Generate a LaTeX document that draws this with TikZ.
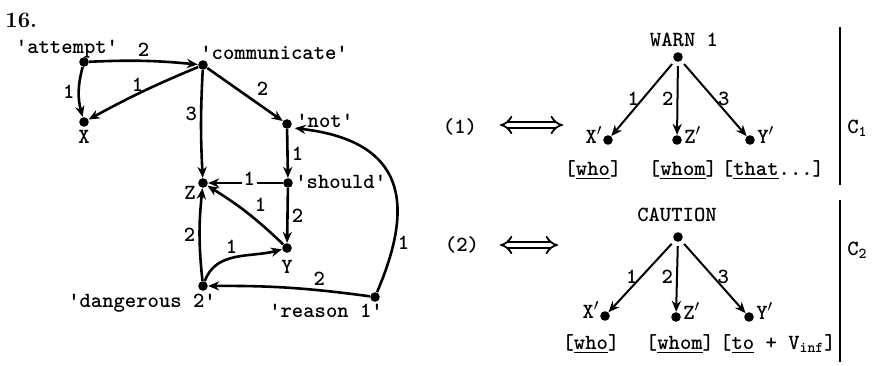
\documentclass[tikz,border=0pt]{standalone}
\usetikzlibrary{arrows.meta}

\begin{document}
\begin{tikzpicture}[x=0.5pt, y=-0.5pt, >={Stealth[length=5.5pt,width=4.6pt]},
    every node/.style={font=\ttfamily\bfseries\fontsize{10.8}{12}\selectfont},
    dot/.style={circle, fill, inner sep=0pt, minimum size=4.8pt},
    rel/.style={->, line width=1.3pt},
    relr/.style={->, line width=1pt, shorten <=2pt},
    num/.style={inner sep=1.5pt},
    txt/.style={anchor=base, inner sep=0pt},
    dbl/.style={{Implies}-{Implies}, double, double distance=2.2pt, line width=0.9pt},
    bar/.style={line width=1.4pt}]
    \useasboundingbox (0,0) rectangle (874,365);

    \node[font=\rmfamily\bfseries\fontsize{11}{13}\selectfont, anchor=base west, inner sep=0pt] (head) at (5,27) {16.};

    % left graph
    \node[dot] (att) at (84,62) {};
    \node[dot] (com) at (203,65) {};
    \node[dot] (X) at (84,122) {};
    \node[dot] (not) at (287,124) {};
    \node[dot] (sho) at (288,183) {};
    \node[dot] (Z) at (203,183) {};
    \node[dot] (Y) at (287,248) {};
    \node[dot] (dan) at (203,286) {};
    \node[dot] (rea) at (375,297) {};

    \node[txt] (attl) at (67,53) {'attempt'};
    \node[txt, anchor=base west] (coml) at (200,59) {'communicate'};
    \node[txt] (Xl) at (84,143) {X};
    \node[txt, anchor=base west] (notl) at (296,127) {'not'};
    \node[txt, anchor=base west] (shol) at (295,188) {'should'};
    \node[txt] (Zl) at (190,199) {Z};
    \node[txt] (Yl) at (287,273) {Y};
    \node[txt] (danl) at (142,307) {'dangerous 2'};
    \node[txt] (real) at (326,317) {'reason 1'};

    \draw[rel] (att) to[bend left=4] node[above, num] {2} (com);
    \draw[rel] (att) to[bend right=15] node[left, num] {1} (X);
    \draw[rel] (com) to[bend right=3] node[above, num, pos=0.55, inner sep=0.5pt] {1} (X);
    \draw[rel] (com) to[bend right=3] node[left, num, pos=0.4] {3} (Z);
    \draw[rel] (com) -- node[above right, num, pos=0.6] {2} (not);
    \draw[rel] (not) -- node[right, num] {1} (sho);
    \draw[rel] (sho) -- node[num, fill=white, inner sep=1pt, yshift=2pt, pos=0.45] {1} (Z);
    \draw[rel] (sho) -- node[right, num] {2} (Y);
    \draw[rel] (Y) to[bend right=6] node[above right, num, pos=0.45] {1} (Z);
    \draw[rel] (dan) to[bend left=6] node[left, num] {2} (Z);
    \draw[rel] (dan) to[out=70, in=195] node[above, num, pos=0.45] {1} (Y);
    \draw[rel] (rea) to[bend right=4] node[above, num, pos=0.3] {2} (dan);
    \draw[rel, shorten >=2pt] (rea) .. controls (410,215) and (415,142) .. node[right, num, pos=0.22] {1} (not.south east);

    % first reading
    \node (r1) at (460,127) {(1)};
    \coordinate (e1a) at (500,125);
    \coordinate (e1b) at (563,125);
    \draw[dbl] (e1a) -- (e1b);

    \node[dot] (w1) at (678,57) {};
    \node[dot] (x1) at (608,140) {};
    \node[dot] (z1) at (677,140) {};
    \node[dot] (y1) at (750,140) {};
    \node[txt] (w1l) at (684,46) {WARN 1};
    \node[txt, anchor=base east] (x1l) at (603,143) {X$'$};
    \node[txt, anchor=base west] (z1l) at (684,143) {Z$'$};
    \node[txt, anchor=base west] (y1l) at (757,143) {Y$'$};
    \node[txt] (x1w) at (593,175) {[\underline{who}]};
    \node[txt] (z1w) at (683,175) {[\underline{whom}]};
    \node[txt] (y1w) at (773,175) {[\underline{that}...]};

    \draw[relr] (w1) -- node[left, num] {1} (x1);
    \draw[relr] (w1) -- node[left, num] {2} (z1);
    \draw[relr] (w1) -- node[right, num] {3} (y1);

    \coordinate (v1a) at (840,27);
    \coordinate (v1b) at (840,185);
    \draw[bar] (v1a) -- (v1b);
    \node[anchor=west, inner sep=0pt] (c1) at (847,128) {C\textsubscript{1}};

    % second reading
    \node (r2) at (462,245) {(2)};
    \coordinate (e2a) at (500,245);
    \coordinate (e2b) at (558,245);
    \draw[dbl] (e2a) -- (e2b);

    \node[dot] (w2) at (678,237) {};
    \node[dot] (x2) at (605,316) {};
    \node[dot] (z2) at (676,317) {};
    \node[dot] (y2) at (749,317) {};
    \node[txt] (w2l) at (677,221) {CAUTION};
    \node[txt, anchor=base east] (x2l) at (600,318) {X$'$};
    \node[txt, anchor=base west] (z2l) at (683,319) {Z$'$};
    \node[txt, anchor=base west] (y2l) at (756,319) {Y$'$};
    \node[txt] (x2w) at (591,349) {[\underline{who}]};
    \node[txt] (z2w) at (680,349) {[\underline{whom}]};
    \node[txt] (y2w) at (778,349) {[\underline{to} + V\textsubscript{inf}]};

    \draw[relr] (w2) -- node[left, num] {1} (x2);
    \draw[relr] (w2) -- node[left, num] {2} (z2);
    \draw[relr] (w2) -- node[right, num] {3} (y2);

    \coordinate (v2a) at (840,200);
    \coordinate (v2b) at (840,362);
    \draw[bar] (v2a) -- (v2b);
    \node[anchor=west, inner sep=0pt] (c2) at (847,250) {C\textsubscript{2}};
\end{tikzpicture}
\end{document}
